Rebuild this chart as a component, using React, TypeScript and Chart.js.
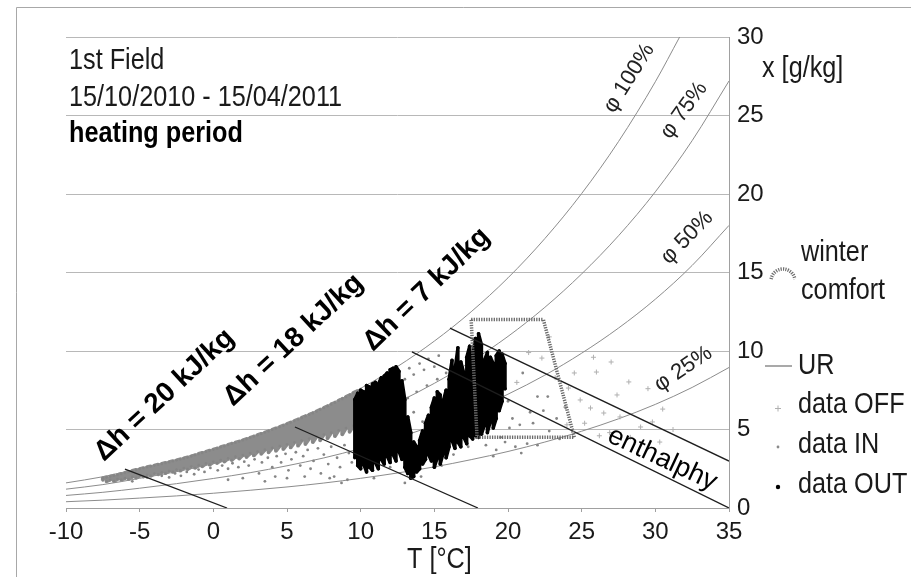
import React, { useEffect, useRef } from 'react';
import { Chart, registerables } from 'chart.js';

Chart.register(...registerables);

// ---------- axis ticks ----------
const xTickValues = [-10, -5, 0, 5, 10, 15, 20, 25, 30, 35];
const yTickValues = [0, 5, 10, 15, 20, 25, 30];

// ---------- relative humidity curves (UR) ----------
const rhT = [-10, -7.5, -5, -2.5, 0, 2.5, 5, 7.5, 10, 12.5, 15, 17.5, 20, 22.5, 25, 27.5, 30, 32.5, 35];
const rh100T = [-10, -7.5, -5, -2.5, 0, 2.5, 5, 7.5, 10, 12.5, 15, 17.5, 20, 22.5, 25, 27.5, 30, 31.65];
const rh100X = [1.6, 1.99, 2.53, 3.09, 3.77, 4.52, 5.4, 6.42, 7.62, 9.01, 10.63, 12.5, 14.66, 17.16, 20.03, 23.34, 27.15, 30.0];
const rh75X = [1.2, 1.49, 1.89, 2.31, 2.82, 3.38, 4.04, 4.8, 5.7, 6.73, 7.94, 9.33, 10.93, 12.78, 14.91, 17.34, 20.14, 23.4, 27.2];
const rh50X = [0.8, 1.0, 1.26, 1.55, 1.88, 2.25, 2.69, 3.19, 3.79, 4.47, 5.27, 6.19, 7.25, 8.46, 9.86, 11.46, 13.3, 15.45, 18.0];
const rh25X = [0.4, 0.5, 0.63, 0.77, 0.94, 1.13, 1.34, 1.59, 1.89, 2.23, 2.62, 3.08, 3.6, 4.2, 4.89, 5.68, 6.6, 7.68, 8.95];

// ---------- enthalpy lines ----------
const enthStartT = [-6.0, 5.54, 13.48, 16.06];
const enthStartX = [2.48, 5.16, 9.94, 11.46];
const enthEndT = [0.93, 17.96, 35, 35];
const enthEndX = [0, 0, 0, 2.99];

// ---------- winter comfort zone ----------
const comfortT = [17.5, 22.4, 24.5, 17.9, 17.5];
const comfortX = [12, 12, 4.5, 4.5, 12];

// ---------- data IN : dense band (vertical extent per temperature) ----------
const bandT = [-7.5, -7.25, -7, -6.75, -6.5, -6.25, -6, -5.75, -5.5, -5.25, -5, -4.75, -4.5, -4.25, -4, -3.75, -3.5, -3.25, -3, -2.75, -2.5, -2.25, -2, -1.75, -1.5, -1.25, -1, -0.75, -0.5, -0.25, 0, 0.25, 0.5, 0.75, 1, 1.25, 1.5, 1.75, 2, 2.25, 2.5, 2.75, 3, 3.25, 3.5, 3.75, 4, 4.25, 4.5, 4.75, 5, 5.25, 5.5, 5.75, 6, 6.25, 6.5, 6.75, 7, 7.25, 7.5, 7.75, 8, 8.25, 8.5, 8.75, 9, 9.25, 9.5, 9.75, 10];
const bandLo = [1.75, 1.7, 1.8, 1.72, 1.85, 1.8, 1.9, 1.85, 1.98, 1.92, 2.05, 2.0, 2.12, 2.05, 2.2, 2.15, 2.28, 2.22, 2.36, 2.3, 2.45, 2.38, 2.55, 2.48, 2.64, 2.56, 2.73, 2.66, 2.84, 2.76, 2.95, 2.86, 3.05, 2.96, 3.16, 3.06, 3.27, 3.15, 3.38, 3.25, 3.5, 3.35, 3.6, 3.45, 3.72, 3.55, 3.83, 3.65, 3.95, 3.76, 4.06, 3.86, 4.18, 3.97, 4.3, 4.08, 4.42, 4.2, 4.55, 4.32, 4.68, 4.45, 4.8, 4.58, 4.95, 4.7, 5.1, 4.85, 5.25, 5.0, 5.4];
const bandHi = [1.9, 1.95, 2.0, 2.05, 2.1, 2.17, 2.24, 2.3, 2.36, 2.42, 2.48, 2.54, 2.6, 2.65, 2.7, 2.76, 2.81, 2.87, 2.92, 2.98, 3.04, 3.1, 3.16, 3.22, 3.29, 3.36, 3.44, 3.51, 3.58, 3.65, 3.72, 3.79, 3.87, 3.94, 4.02, 4.09, 4.16, 4.23, 4.31, 4.39, 4.47, 4.55, 4.64, 4.72, 4.81, 4.89, 4.98, 5.07, 5.16, 5.25, 5.35, 5.44, 5.54, 5.64, 5.74, 5.84, 5.94, 6.04, 6.15, 6.26, 6.37, 6.48, 6.6, 6.71, 6.83, 6.95, 7.07, 7.19, 7.32, 7.44, 7.57];

// ---------- data IN : scattered points ----------
const inT = [-5.5, -4.5, -3.5, -3, -2.6, -2.2, -1.8, -1.3, -1, -0.6, -0.2, 0.3, 0.6, 1, 1, 1.3, 1.7, 2, 2.1, 2.4, 2.8, 3.1, 3.3, 3.5, 3.7, 4, 4.2, 4.3, 4.6, 4.9, 5, 5.1, 5.3, 5.6, 5.9, 6.1, 6.2, 6.4, 6.6, 6.8, 7.1, 7.3, 7.5, 7.8, 7.9, 8, 8.2, 8.4, 8.6, 8.7, 8.9, 9.1, 9.2, 9.4,
  10.5, 11, 11.5, 11.8, 12.2, 12.6, 13, 13.3, 13.6, 14, 14.3, 14.6, 15, 15.3, 12.5, 13.2, 13.8, 14.5, 15.2, 15.8, 16.2, 14.8, 15.5, 16.4, 12.8, 13.6, 14.2, 15.1, 16, 16.8, 16.6, 15.7, 14.9, 16.3, 17.3, 17, 11.2, 12, 12.4, 11.6, 10.9, 13, 14.1, 15.5,
  18.5, 19.2, 19.8, 20.5, 21.3, 22, 20.3, 20.8, 21.5, 22.4, 22, 22.7, 23.3, 21.7, 20.1, 19.5, 23.9, 18.8, 19.4, 20, 18.3, 21, 19, 20.9, 22.8, 23.5];
const inX = [1.7, 1.95, 2.05, 1.95, 2.2, 2.05, 2.3, 2.15, 2.45, 2.3, 2.55, 2.4, 2.7, 2.5, 1.8, 2.85, 2.6, 1.9, 2.95, 2.7, 3.1, 2.2, 2.9, 1.7, 3.2, 2.6, 2.0, 3.3, 2.9, 3.45, 1.9, 2.4, 3.1, 3.55, 2.7, 3.3, 2.0, 3.7, 2.5, 3.0, 3.8, 2.2, 3.4, 2.8, 1.9, 3.9, 2.0, 3.2, 2.6, 1.6, 4.0, 1.8, 3.5, 2.9,
  7.2, 7.6, 7.4, 8.1, 7.9, 8.4, 8.2, 8.9, 8.5, 9.2, 8.8, 9.5, 9.0, 9.7, 6.6, 7.0, 7.4, 7.8, 8.2, 8.6, 9.3, 6.5, 6.9, 7.4, 5.8, 6.1, 5.5, 5.8, 5.9, 6.4, 4.5, 4.2, 3.6, 3.4, 3.9, 5.2, 3.1, 2.6, 3.8, 5.2, 1.9, 1.6, 2.0, 2.7,
  4.0, 3.7, 4.2, 3.9, 4.1, 4.0, 5.7, 5.3, 6.1, 6.2, 7.1, 7.1, 5.7, 5.4, 5.1, 4.5, 6.4, 6.5, 7.2, 6.8, 8.2, 8.6, 3.3, 3.5, 4.9, 4.4];

// ---------- data OFF ----------
const offT = [22.3, 26.0, 28.2, 24.1, 24.9, 27.4, 25.6, 23.9, 29.0, 29.8, 27.6, 26.5, 25.2, 26.9, 28.3, 30.5, 31.2, 24.5, 22.8, 25.8, 21.4, 20.6, 23.2, 27.0, 26.2, 24.0, 29.5, 30.3];
const offX = [9.55, 8.66, 8.03, 7.64, 6.88, 7.2, 6.37, 6.43, 5.16, 5.48, 5.8, 6.05, 5.4, 4.8, 4.5, 6.3, 5.0, 8.6, 10.9, 9.6, 9.9, 8.0, 8.3, 9.3, 4.6, 5.3, 7.6, 4.2];

// ---------- data OUT : vertical extent per temperature ----------
const outT = [9.6, 9.8, 10.0, 10.2, 10.4, 10.6, 10.8, 11.0, 11.2, 11.4, 11.6, 11.8, 12.0, 12.2, 12.4, 12.6, 12.8, 13.0, 13.2, 13.4, 13.6, 13.8, 14.0, 14.2, 14.4, 14.6, 14.8, 15.0, 15.2, 15.4, 15.6, 15.8, 16.0, 16.2, 16.4, 16.6, 16.8, 17.0, 17.2, 17.4, 17.6, 17.8, 18.0, 18.2, 18.4, 18.6, 18.8, 19.0, 19.2, 19.4, 19.6, 19.8];
const outLo = [3.2, 2.7, 2.5, 2.8, 2.3, 2.6, 2.4, 2.9, 2.5, 3.1, 2.8, 3.3, 2.9, 3.4, 3.0, 3.6, 3.1, 2.6, 2.2, 1.9, 2.0, 2.3, 2.5, 2.8, 3.1, 3.4, 3.0, 2.6, 3.2, 2.8, 3.5, 3.2, 3.9, 4.3, 3.8, 4.2, 3.9, 4.5, 4.1, 4.6, 4.4, 4.6, 4.5, 4.7, 5.3, 4.8, 5.5, 5.1, 5.7, 6.2, 6.8, 7.6];
const outHi = [6.9, 7.3, 7.5, 7.4, 7.8, 7.7, 7.9, 8.0, 7.9, 8.3, 8.4, 8.6, 8.8, 8.9, 9.0, 8.7, 8.1, 6.9, 5.8, 4.8, 4.2, 3.9, 4.3, 4.9, 5.4, 5.9, 6.4, 7.0, 7.4, 7.2, 6.8, 7.5, 8.2, 9.4, 8.8, 10.2, 9.3, 8.6, 9.6, 10.3, 9.8, 10.8, 11.1, 10.4, 9.4, 9.9, 9.6, 9.2, 9.7, 10.0, 9.8, 9.2];

const FONT = "'Liberation Sans', Arial, Helvetica, sans-serif";

const toPoints = (T: number[], X: number[]) => T.map((t, i) => ({ x: t, y: X[i] }));
const meander = (T: number[], lo: number[], hi: number[]) => {
  const res: { x: number; y: number }[] = [];
  T.forEach((t, i) => {
    if (i % 2 === 0) res.push({ x: t, y: lo[i] }, { x: t, y: hi[i] });
    else res.push({ x: t, y: hi[i] }, { x: t, y: lo[i] });
  });
  return res;
};

type Label = { text: string; x: number; y: number; size: number; weight: string; angle: number; sx: number; color: string };
const labels: Label[] = [
  { text: '1st Field', x: 69, y: 69, size: 29, weight: 'normal', angle: 0, sx: 0.87, color: '#1a1a1a' },
  { text: '15/10/2010 - 15/04/2011', x: 69, y: 106, size: 29, weight: 'normal', angle: 0, sx: 0.87, color: '#1a1a1a' },
  { text: 'heating period', x: 69, y: 142, size: 29, weight: 'bold', angle: 0, sx: 0.87, color: '#000' },
  { text: 'x [g/kg]', x: 762, y: 77, size: 29, weight: 'normal', angle: 0, sx: 0.87, color: '#1a1a1a' },
  { text: 'T [°C]', x: 407, y: 568, size: 29, weight: 'normal', angle: 0, sx: 0.87, color: '#1a1a1a' },
  { text: 'winter', x: 801, y: 261, size: 29, weight: 'normal', angle: 0, sx: 0.87, color: '#1a1a1a' },
  { text: 'comfort', x: 801, y: 299, size: 29, weight: 'normal', angle: 0, sx: 0.87, color: '#1a1a1a' },
  { text: 'UR', x: 798, y: 374, size: 29, weight: 'normal', angle: 0, sx: 0.87, color: '#1a1a1a' },
  { text: 'data OFF', x: 798, y: 413, size: 29, weight: 'normal', angle: 0, sx: 0.87, color: '#1a1a1a' },
  { text: 'data IN', x: 798, y: 453, size: 29, weight: 'normal', angle: 0, sx: 0.87, color: '#1a1a1a' },
  { text: 'data OUT', x: 798, y: 493, size: 29, weight: 'normal', angle: 0, sx: 0.87, color: '#1a1a1a' },
  { text: 'Δh = 20 kJ/kg', x: 104, y: 462, size: 28, weight: 'bold', angle: -43, sx: 1, color: '#000' },
  { text: 'Δh = 18 kJ/kg', x: 233, y: 407, size: 28, weight: 'bold', angle: -43, sx: 1, color: '#000' },
  { text: 'Δh = 7 kJ/kg', x: 373, y: 352, size: 28, weight: 'bold', angle: -44, sx: 1, color: '#000' },
  { text: 'enthalphy', x: 606, y: 441, size: 27, weight: 'normal', angle: 25, sx: 1, color: '#000' },
  { text: 'φ 100%', x: 614, y: 114, size: 22, weight: 'normal', angle: -58, sx: 1, color: '#222' },
  { text: 'φ 75%', x: 670, y: 140, size: 22, weight: 'normal', angle: -54, sx: 1, color: '#222' },
  { text: 'φ 50%', x: 669, y: 265, size: 22, weight: 'normal', angle: -46, sx: 1, color: '#222' },
  { text: 'φ 25%', x: 660, y: 392, size: 22, weight: 'normal', angle: -34, sx: 1, color: '#222' },
];

const overlayPlugin = {
  id: 'overlay',
  beforeDraw(chart: any) {
    const ctx = chart.ctx;
    ctx.save();
    ctx.fillStyle = '#fff';
    ctx.fillRect(0, 0, chart.width, chart.height);
    ctx.strokeStyle = '#a8a8a8';
    ctx.lineWidth = 1;
    ctx.beginPath();
    ctx.moveTo(16.5, chart.height);
    ctx.lineTo(16.5, 7.5);
    ctx.lineTo(chart.width, 7.5);
    ctx.stroke();
    ctx.restore();
  },
  afterDraw(chart: any) {
    const ctx = chart.ctx;
    for (const l of labels) {
      ctx.save();
      ctx.translate(l.x, l.y);
      ctx.scale(l.sx, 1);
      ctx.rotate((l.angle * Math.PI) / 180);
      ctx.font = `${l.weight} ${l.size}px ${FONT}`;
      ctx.fillStyle = l.color;
      ctx.textAlign = 'left';
      ctx.textBaseline = 'alphabetic';
      ctx.fillText(l.text, 0, 0);
      ctx.restore();
    }
    // legend symbols
    ctx.save();
    ctx.strokeStyle = '#6e6e6e';
    ctx.lineWidth = 3.5;
    ctx.setLineDash([1.2, 1.2]);
    ctx.beginPath();
    ctx.arc(783, 281, 12, Math.PI * 1.05, Math.PI * 1.95);
    ctx.stroke();
    ctx.setLineDash([]);
    ctx.strokeStyle = '#8c8c8c';
    ctx.lineWidth = 1.5;
    ctx.beginPath();
    ctx.moveTo(765, 366);
    ctx.lineTo(792, 366);
    ctx.stroke();
    ctx.strokeStyle = '#b0b0b0';
    ctx.lineWidth = 1;
    ctx.beginPath();
    ctx.moveTo(775, 408.5);
    ctx.lineTo(781, 408.5);
    ctx.moveTo(778, 405.5);
    ctx.lineTo(778, 411.5);
    ctx.stroke();
    ctx.fillStyle = '#8a8a8a';
    ctx.beginPath();
    ctx.arc(778, 447, 1.4, 0, Math.PI * 2);
    ctx.fill();
    ctx.fillStyle = '#000';
    ctx.beginPath();
    ctx.arc(778, 487, 2.2, 0, Math.PI * 2);
    ctx.fill();
    ctx.restore();
  },
};

export default function App() {
  const canvasRef = useRef<HTMLCanvasElement | null>(null);

  useEffect(() => {
    document.body.style.margin = '0';
    const canvas = canvasRef.current;
    if (!canvas) return;

    const curve = (T: number[], X: number[], order: number) => ({
      label: 'UR',
      data: toPoints(T, X),
      showLine: true,
      borderColor: '#8c8c8c',
      borderWidth: 1,
      pointRadius: 0,
      cubicInterpolationMode: 'monotone' as const,
      order,
    });

    const enthalpy = enthStartT.map((t, i) => ({
      label: 'enthalpy',
      data: [
        { x: t, y: enthStartX[i] },
        { x: enthEndT[i], y: enthEndX[i] },
      ],
      showLine: true,
      borderColor: '#1e1e1e',
      borderWidth: 1.3,
      pointRadius: 0,
      order: 1,
    }));

    const datasets: any[] = [
      ...enthalpy,
      {
        label: 'winter comfort',
        data: toPoints(comfortT, comfortX),
        showLine: true,
        borderColor: '#6a6a6a',
        borderWidth: 3.5,
        borderDash: [1.3, 1.2],
        pointRadius: 0,
        order: 0,
      },
      {
        label: 'data OUT',
        data: meander(outT, outLo, outHi),
        showLine: true,
        borderColor: '#000',
        borderWidth: 3.4,
        borderJoinStyle: 'round',
        pointRadius: 1.8,
        pointBackgroundColor: '#000',
        pointBorderWidth: 0,
        order: 3,
      },
      {
        label: 'data OFF',
        data: toPoints(offT, offX),
        pointStyle: 'cross',
        pointRadius: 2.5,
        borderColor: '#b0b0b0',
        borderWidth: 1,
        order: 4,
      },
      {
        label: 'data IN',
        data: toPoints(inT, inX),
        pointRadius: 1.4,
        pointBackgroundColor: '#858585',
        pointBorderWidth: 0,
        order: 5,
      },
      {
        label: 'data IN band',
        data: meander(bandT, bandLo, bandHi),
        showLine: true,
        borderColor: '#8c8c8c',
        borderWidth: 3.9,
        borderJoinStyle: 'round',
        pointRadius: 1.3,
        pointBackgroundColor: '#858585',
        pointBorderWidth: 0,
        order: 6,
      },
      curve(rh100T, rh100X, 7),
      curve(rhT, rh75X, 7),
      curve(rhT, rh50X, 7),
      curve(rhT, rh25X, 7),
    ];

    const chart = new Chart(canvas, {
      type: 'scatter',
      data: { datasets },
      options: {
        animation: false,
        responsive: false,
        maintainAspectRatio: false,
        devicePixelRatio: 1,
        layout: { padding: { left: 66, top: 37, right: 0, bottom: 0 } },
        plugins: { legend: { display: false }, tooltip: { enabled: false } },
        elements: { line: { tension: 0 } },
        scales: {
          x: {
            type: 'linear',
            position: 'bottom',
            min: -10,
            max: 35,
            afterBuildTicks: (s: any) => {
              s.ticks = xTickValues.map((v) => ({ value: v }));
            },
            afterFit: (s: any) => {
              s.height = 69;
            },
            ticks: { font: { family: FONT, size: 24 }, color: '#1a1a1a', padding: 6, maxRotation: 0 },
            grid: { drawOnChartArea: false, drawTicks: true, tickLength: 4, color: '#a0a0a0' },
            border: { display: true, color: '#a0a0a0' },
          },
          y: {
            type: 'linear',
            position: 'right',
            min: 0,
            max: 30,
            afterBuildTicks: (s: any) => {
              s.ticks = yTickValues.map((v) => ({ value: v }));
            },
            afterFit: (s: any) => {
              s.width = 182;
            },
            ticks: { font: { family: FONT, size: 24 }, color: '#1a1a1a', padding: 8 },
            grid: { drawTicks: false, color: '#b8b8b8', lineWidth: 1 },
            border: { display: true, color: '#a0a0a0' },
          },
        },
      },
      plugins: [overlayPlugin],
    });

    return () => chart.destroy();
  }, []);

  return (
    <div style={{ width: 911, height: 577, background: '#fff' }}>
      <canvas ref={canvasRef} width={911} height={577} style={{ display: 'block', width: 911, height: 577 }} />
    </div>
  );
}
